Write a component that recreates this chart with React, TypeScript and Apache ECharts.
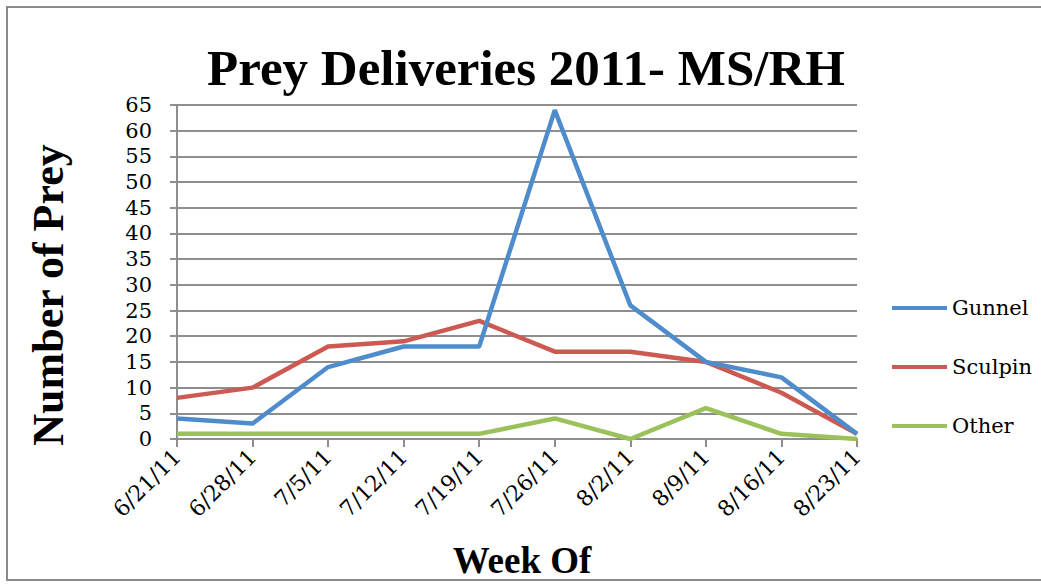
import React, { useEffect, useRef } from "react";
import * as echarts from "echarts";

const weeks = ["6/21/11", "6/28/11", "7/5/11", "7/12/11", "7/19/11", "7/26/11", "8/2/11", "8/9/11", "8/16/11", "8/23/11"];
const gunnel = [4, 3, 14, 18, 18, 64, 26, 15, 12, 1];
const sculpin = [8, 10, 18, 19, 23, 17, 17, 15, 9, 1];
const other = [1, 1, 1, 1, 1, 4, 0, 6, 1, 0];
const seriesNames = ["Gunnel", "Sculpin", "Other"];
const seriesColors = ["#4f8ccb", "#cc5a52", "#9bc15b"];
const titleText = "Prey Deliveries 2011- MS/RH";
const yName = "Number of Prey";
const xName = "Week Of";

const BOLD = "'Liberation Serif', 'Times New Roman', serif";
const REG = "'DejaVu Serif', serif";
const GRID = "#8e8e8e";

export default function App() {
  const ref = useRef<HTMLDivElement>(null);
  useEffect(() => {
    if (!ref.current) return;
    const chart = echarts.init(ref.current, undefined, { renderer: "svg" });
    const data = [gunnel, sculpin, other];
    chart.setOption({
      animation: false,
      backgroundColor: "#ffffff",
      grid: { left: 177, right: 184, top: 105, bottom: 145, containLabel: false },
      legend: {
        orient: "vertical",
        left: 892,
        top: 296,
        padding: 0,
        itemWidth: 55,
        itemHeight: 4,
        itemGap: 35,
        icon: "rect",
        data: seriesNames,
        textStyle: { fontFamily: REG, fontSize: 21, color: "#000", lineHeight: 24 },
      },
      xAxis: {
        type: "category",
        data: weeks,
        boundaryGap: false,
        axisLine: { lineStyle: { color: GRID, width: 2 } },
        axisTick: { show: true, length: 8, alignWithLabel: true, lineStyle: { color: GRID, width: 2 } },
        axisLabel: {
          rotate: 45,
          margin: 14,
          interval: 0,
          fontFamily: REG,
          fontSize: 22,
          color: "#000",
        },
      },
      yAxis: {
        type: "value",
        min: 0,
        max: 65,
        interval: 5,
        axisLine: { show: true, lineStyle: { color: GRID, width: 2 } },
        axisTick: { show: true, length: 7, lineStyle: { color: GRID, width: 2 } },
        axisLabel: { margin: 25, fontFamily: REG, fontSize: 21, color: "#000" },
        splitLine: { show: true, lineStyle: { color: GRID, width: 2 } },
      },
      series: seriesNames.map((n, i) => ({
        name: n,
        type: "line",
        data: data[i],
        symbol: "none",
        color: seriesColors[i],
        lineStyle: { width: 4.5, color: seriesColors[i] },
        z: 10 - i,
      })),
      graphic: [
        {
          type: "rect",
          shape: { x: 7, y: 7, width: 1050, height: 573 },
          style: { fill: "none", stroke: "#8a8a8a", lineWidth: 2 },
          silent: true,
        },
        {
          type: "text",
          x: 526,
          y: 68,
          style: {
            text: titleText,
            fontFamily: BOLD,
            fontWeight: "bold",
            fontSize: 51,
            fill: "#000",
            textAlign: "center",
            textVerticalAlign: "middle",
          },
        },
        {
          type: "text",
          x: 48,
          y: 295,
          rotation: Math.PI / 2,
          style: {
            text: yName,
            fontFamily: BOLD,
            fontWeight: "bold",
            fontSize: 44,
            fill: "#000",
            textAlign: "center",
            textVerticalAlign: "middle",
          },
        },
        {
          type: "text",
          x: 522,
          y: 560,
          style: {
            text: xName,
            fontFamily: BOLD,
            fontWeight: "bold",
            fontSize: 37,
            fill: "#000",
            textAlign: "center",
            textVerticalAlign: "middle",
          },
        },
      ],
    });
    return () => chart.dispose();
  }, []);
  return <div ref={ref} style={{ position: "fixed", left: 0, top: 0, width: 1041, height: 584 }} />;
}
